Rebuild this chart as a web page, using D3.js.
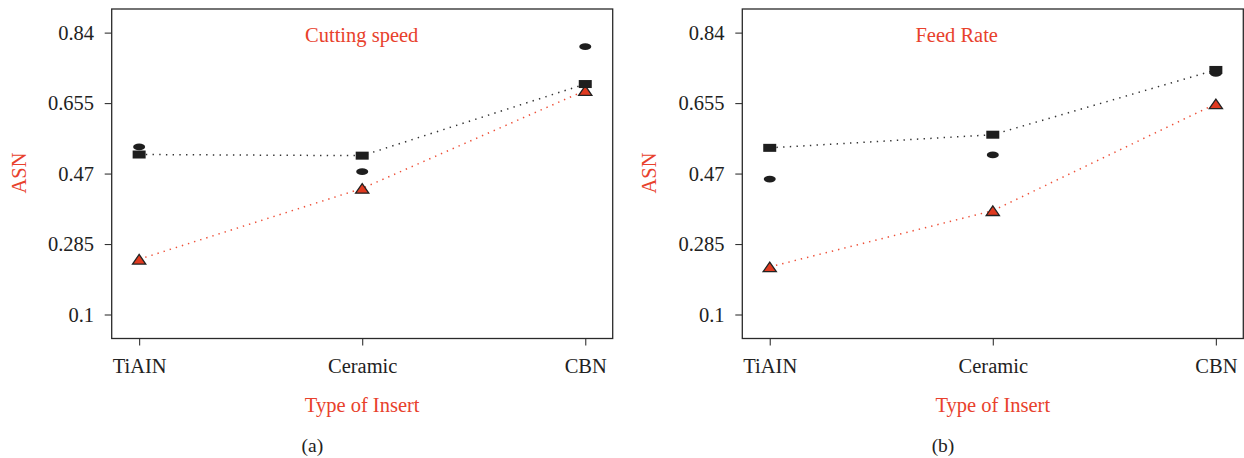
<!DOCTYPE html>
<html>
<head>
<meta charset="utf-8">
<script src="https://cdn.jsdelivr.net/npm/d3@7/dist/d3.min.js"></script>
<style>
  html, body { margin: 0; padding: 0; background: #fff; }
  svg { display: block; }
  text { font-family: "Liberation Serif", "Times New Roman", serif; }
</style>
</head>
<body>
<svg id="chart" width="1244" height="458"></svg>
<script>
// ---- Data ----
const categories = ["TiAIN", "Ceramic", "CBN"];
const yTicks = [0.1, 0.285, 0.47, 0.655, 0.84];
const yDomain = [0.037, 0.902];

// Panel (a): Cutting speed
const cuttingSquare   = [0.520, 0.517, 0.705];
const cuttingEllipse  = [0.540, 0.475, 0.803];
const cuttingTriangle = [0.245, 0.431, 0.688];

// Panel (b): Feed Rate
const feedSquare   = [0.5375, 0.572, 0.742];
const feedEllipse  = [0.4555, 0.519, 0.733];
const feedTriangle = [0.225, 0.3725, 0.653];

const panels = [
  { title: "Cutting speed", tag: "(a)", sq: cuttingSquare, el: cuttingEllipse, tr: cuttingTriangle, left: 111.7, titleDx: 250, titleY: 41.7 },
  { title: "Feed Rate", tag: "(b)", sq: feedSquare, el: feedEllipse, tr: feedTriangle, left: 742.3, titleDx: 214.4, titleY: 42.3 }
];

// ---- Layout ----
const W = 501, plotTop = 9, plotBottom = 338.5;
const RED = "#e8412c";
const TRI = "#e03a20";
const DARK = "#1e1e1e";
const FS = 20.5;

const svg = d3.select("#chart");
const y = d3.scaleLinear().domain(yDomain).range([plotBottom, plotTop]);

panels.forEach(p => {
  const x = d3.scalePoint().domain(categories).range([p.left, p.left + W]).padding(0.123);
  const g = svg.append("g");

  // axes
  const ya = g.append("g").attr("transform", `translate(${p.left},0)`)
    .call(d3.axisLeft(y).tickValues(yTicks).tickSize(7).tickSizeOuter(0).tickFormat(d => String(d)));
  ya.select(".domain").remove();
  ya.selectAll(".tick line").attr("stroke", "#333").attr("stroke-width", 1.1);
  ya.selectAll(".tick text").attr("x", -17.7).attr("dy", "0.33em")
    .attr("fill", "#222").style("font-size", FS + "px").style("font-family", "Liberation Serif");

  const xa = g.append("g").attr("transform", `translate(0,${plotBottom})`)
    .call(d3.axisBottom(x).tickSize(7).tickSizeOuter(0));
  xa.select(".domain").remove();
  xa.selectAll(".tick line").attr("stroke", "#333").attr("stroke-width", 1.1);
  xa.selectAll(".tick text").attr("y", 34.8).attr("dy", 0)
    .attr("fill", "#222").style("font-size", FS + "px").style("font-family", "Liberation Serif");

  // frame
  g.append("rect").attr("x", p.left).attr("y", plotTop).attr("width", W).attr("height", plotBottom - plotTop)
    .attr("fill", "none").attr("stroke", "#2a2a2a").attr("stroke-width", 1.3);

  // lines
  const line = d3.line().x((d, i) => x(categories[i])).y(d => y(d));
  g.append("path").datum(p.tr).attr("d", line).attr("fill", "none")
    .attr("stroke", "#ee5038").attr("stroke-width", 1.5).attr("stroke-dasharray", "1.4,5");
  g.append("path").datum(p.sq).attr("d", line).attr("fill", "none")
    .attr("stroke", "#333").attr("stroke-width", 1.5).attr("stroke-dasharray", "1.4,5.3");

  // markers: triangles
  g.selectAll(".tri").data(p.tr).enter().append("path")
    .attr("d", (d, i) => {
      const cx = x(categories[i]), cy = y(d), hw = 6.6, hh = 4.8;
      return `M${cx},${cy - hh}L${cx + hw},${cy + hh}L${cx - hw},${cy + hh}Z`;
    })
    .attr("fill", TRI).attr("stroke", "#222").attr("stroke-width", 1.3).attr("stroke-linejoin", "miter");

  // ellipses
  g.selectAll(".ell").data(p.el).enter().append("ellipse")
    .attr("cx", (d, i) => x(categories[i])).attr("cy", d => y(d))
    .attr("rx", 6).attr("ry", 3.4).attr("fill", DARK);

  // squares
  g.selectAll(".sq").data(p.sq).enter().append("rect")
    .attr("x", (d, i) => x(categories[i]) - 6.5).attr("y", d => y(d) - 4)
    .attr("width", 13).attr("height", 8).attr("fill", DARK);

  // texts
  g.append("text").attr("x", p.left + p.titleDx).attr("y", p.titleY).attr("text-anchor", "middle")
    .attr("fill", RED).style("font-size", FS + "px").text(p.title);
  g.append("text").attr("x", x("Ceramic")).attr("y", 411.7).attr("text-anchor", "middle")
    .attr("fill", RED).style("font-size", FS + "px").text("Type of Insert");
  g.append("text").attr("transform", `translate(${p.left - 86},${173}) rotate(-90)`).attr("text-anchor", "middle")
    .attr("fill", RED).style("font-size", FS + "px").text("ASN");
  g.append("text").attr("x", p.left + 200.7).attr("y", 451.7).attr("text-anchor", "middle")
    .attr("fill", "#222").style("font-size", "19.5px").text(p.tag);
});
</script>
</body>
</html>
